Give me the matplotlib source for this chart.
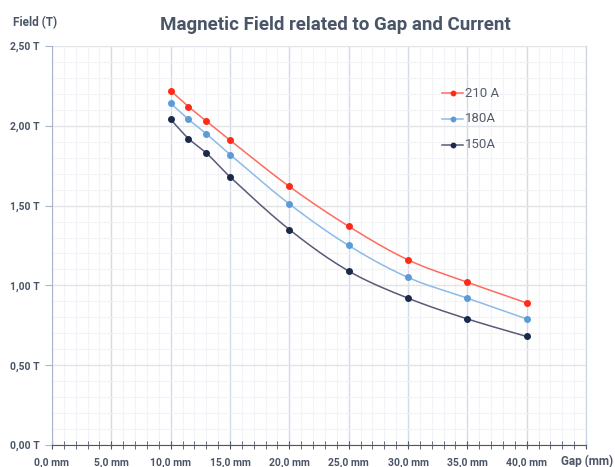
import numpy as np
import matplotlib
matplotlib.use("Agg")
import matplotlib.pyplot as plt
from matplotlib.ticker import MultipleLocator, FuncFormatter

gap_mm = [10, 11.5, 13, 15, 20, 25, 30, 35, 40]
field_210 = [2.22, 2.12, 2.03, 1.91, 1.62, 1.37, 1.16, 1.02, 0.89]
field_180 = [2.14, 2.04, 1.95, 1.82, 1.51, 1.25, 1.05, 0.92, 0.79]
field_150 = [2.04, 1.92, 1.83, 1.68, 1.35, 1.09, 0.92, 0.79, 0.68]
series_labels = ["210 A", "180A", "150A"]
title = "Magnetic Field related to Gap and Current"

plt.rcParams['font.family'] = ['Roboto', 'DejaVu Sans']
TXT = "#4a5568"

def smooth(x, y, n=20):
    # Catmull-Rom style cubic Hermite for line drawing only
    x = np.asarray(x, float); y = np.asarray(y, float)
    m = np.zeros_like(y)
    m[1:-1] = (y[2:] - y[:-2]) / (x[2:] - x[:-2])
    m[0] = (y[1] - y[0]) / (x[1] - x[0])
    m[-1] = (y[-1] - y[-2]) / (x[-1] - x[-2])
    xs, ys = [], []
    for i in range(len(x) - 1):
        h = x[i+1] - x[i]
        t = np.linspace(0, 1, n, endpoint=False)
        h00 = 2*t**3 - 3*t**2 + 1; h10 = t**3 - 2*t**2 + t
        h01 = -2*t**3 + 3*t**2; h11 = t**3 - t**2
        xs.append(x[i] + t*h)
        ys.append(h00*y[i] + h10*h*m[i] + h01*y[i+1] + h11*h*m[i+1])
    xs.append([x[-1]]); ys.append([y[-1]])
    return np.concatenate(xs), np.concatenate(ys)

fig = plt.figure(figsize=(6.15, 4.67), dpi=100)
ax = fig.add_axes([52/615, 1-445/467, (586-52)/615, (445-46)/467])

ax.set_xlim(0, 45)
ax.set_ylim(0, 2.5)
ax.xaxis.set_major_locator(MultipleLocator(5))
ax.xaxis.set_minor_locator(MultipleLocator(1))
ax.yaxis.set_major_locator(MultipleLocator(0.5))
ax.yaxis.set_minor_locator(MultipleLocator(0.1))

ax.grid(which='minor', color='#f1f3f6', lw=0.8)
ax.grid(which='major', axis='x', color='#d3dbe6', lw=1.0)
ax.grid(which='major', axis='y', color='#e2e4e8', lw=1.0)
ax.set_axisbelow(True)

colors = ["#ff2a17", "#5b9bd8", "#1b2a4a"]
line_colors = ["#ff6b5c", "#8cbbe8", "#5a5a78"]
for ys, lab, c, lc in zip([field_210, field_180, field_150], series_labels, colors, line_colors):
    sx, sy = smooth(gap_mm, ys)
    ax.plot(sx, sy, color=lc, lw=1.1, zorder=3)
    ax.plot(gap_mm, ys, 'o', color=c, ms=4, zorder=4, label=lab)

# legend drawn manually to mimic line+marker
leg_y = [2.205, 2.043, 1.880]
for yy, lab, c, lc in zip(leg_y, series_labels, colors, line_colors):
    ax.plot([32.9, 34.6], [yy, yy], color=lc, lw=1.1, zorder=5)
    ax.plot([33.75], [yy], 'o', color=c, ms=3.2, zorder=6)
    ax.text(34.8, yy, lab, color="#555b6b", fontsize=9.5, va='center', ha='left')

for s in ['top', 'right']:
    ax.spines[s].set_visible(False)
ax.spines['left'].set_color('#a9b5c8')
ax.spines['bottom'].set_color('#4a5568')
ax.spines['right'].set_visible(True)
ax.spines['right'].set_color('#c9d3e0')

ax.xaxis.set_major_formatter(FuncFormatter(lambda v, p: f"{v:.1f}".replace('.', ',') + " mm" if v <= 40.01 else ""))
ax.yaxis.set_major_formatter(FuncFormatter(lambda v, p: f"{v:.2f}".replace('.', ',') + " T"))
ax.tick_params(axis='x', which='both', direction='inout', length=6, color='#4a5568', labelsize=7.5, labelcolor=TXT, pad=6)
ax.tick_params(axis='x', which='minor', length=6)
ax.tick_params(axis='y', which='major', direction='out', length=5, color='#a9b5c8', labelsize=7.5, labelcolor=TXT, pad=4)
ax.tick_params(axis='y', which='minor', length=0)
for lbl in ax.get_xticklabels() + ax.get_yticklabels():
    lbl.set_fontweight('bold')

fig.text(335/615, 1-25/467, title, ha='center', va='center', fontsize=13.5, fontweight='bold', color=TXT)
fig.text(13/615, 1-23/467, "Field (T)", ha='left', va='center', fontsize=8.5, fontweight='bold', color=TXT)
fig.text(613/615, 1-461/467, "Gap (mm)", ha='right', va='center', fontsize=8.5, fontweight='bold', color=TXT)

fig.savefig("out.png", dpi=100, facecolor='white')
